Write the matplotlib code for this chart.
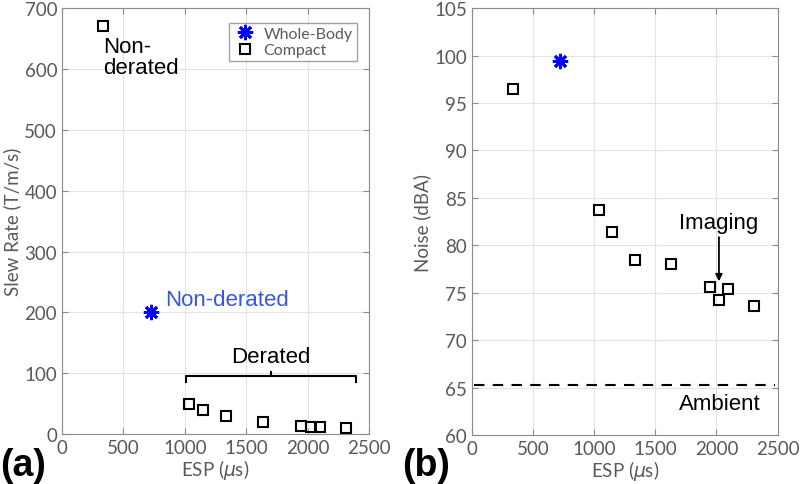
import matplotlib
matplotlib.use("Agg")
import matplotlib.pyplot as plt

# compact gradient points
esp_compact = [332, 1036, 1146, 1336, 1632, 1948, 2024, 2098, 2308]
slew_compact = [670, 49, 40, 30, 19, 14, 12, 11, 10]
noise_compact = [96.5, 83.7, 81.4, 78.5, 78.0, 75.6, 74.2, 75.4, 73.6]

# whole-body gradient point
esp_wb = [722]
slew_wb = [200]
noise_wb = [99.4]

ambient = 65.3

GRAY = "#595959"
STAR = (8, 2, 0)  # matlab-like asterisk
plt.rcParams["font.family"] = ["Lato", "DejaVu Sans"]

fig = plt.figure(figsize=(8, 4.85), dpi=100)
ax1 = fig.add_axes([0.0775, 0.103, 0.384, 0.878])
ax2 = fig.add_axes([0.59, 0.101, 0.382, 0.880])


def style(ax):
  ax.grid(True, color="#e3e3e3", linewidth=0.8)
  ax.set_axisbelow(True)
  for s in ax.spines.values():
    s.set_color("#8c8c8c")
    s.set_linewidth(0.8)
  ax.tick_params(direction="in", top=True, right=True, colors="#8c8c8c",
                 labelcolor=GRAY, labelsize=13.5, length=4)
  ax.set_xlim(0, 2500)
  ax.set_xticks([0, 500, 1000, 1500, 2000, 2500])
  ax.set_xlabel(r"ESP ($\mu$s)", color=GRAY, fontsize=13.5, labelpad=1)


# (a) slew rate
style(ax1)
ax1.plot(esp_wb, slew_wb, marker=STAR, ls="none", color="blue", mew=2,
         markersize=11, label="Whole-Body")
ax1.plot(esp_compact, slew_compact, "s", mfc="none", mec="black", mew=1.5,
         markersize=7, label="Compact")
ax1.set_ylim(0, 700)
ax1.set_yticks(range(0, 701, 100))
ax1.set_ylabel("Slew Rate (T/m/s)", color=GRAY, fontsize=13.5, labelpad=2)
ax1.legend(loc="upper right", fontsize=11.5, frameon=True, fancybox=False,
           edgecolor="#8c8c8c", handletextpad=0.4, borderpad=0.25,
           labelspacing=0.15, handlelength=1.5, labelcolor=GRAY,
           bbox_to_anchor=(0.985, 0.985))

afont = dict(family=["Liberation Sans", "DejaVu Sans"], fontsize=16)
ax1.text(338, 655, "Non-\nderated", ha="left", va="top", color="black",
         linespacing=1.05, **afont)
ax1.text(838, 221, "Non-derated", ha="left", va="center", color="#3a55e0", **afont)
ax1.text(1700, 128, "Derated", ha="center", va="center", color="black", **afont)
# bracket
bx0, bx1, by = 1010, 2390, 95
ax1.plot([bx0, bx0, 1700, 1700, 1700, bx1, bx1],
         [by - 10, by, by, by + 7, by, by, by - 10],
         color="black", linewidth=1.5, solid_joinstyle="round")

# (b) noise
style(ax2)
ax2.plot(esp_wb, noise_wb, marker=STAR, ls="none", color="blue", mew=2,
         markersize=11)
ax2.plot(esp_compact, noise_compact, "s", mfc="none", mec="black", mew=1.5,
         markersize=7)
ax2.axhline(ambient, xmin=0.005, xmax=0.99, color="black", linestyle=(0, (5, 4)),
            linewidth=1.5)
ax2.set_ylim(60, 105)
ax2.set_yticks(range(60, 106, 5))
ax2.set_ylabel("Noise (dBA)", color=GRAY, fontsize=13.5, labelpad=2)
ax2.annotate("Imaging", xy=(2020, 76.2), xytext=(2020, 81.3), ha="center",
             va="bottom", color="black",
             arrowprops=dict(arrowstyle="-|>", color="black", lw=1.3,
                             mutation_scale=10, shrinkA=1, shrinkB=0),
             **afont)
ax2.text(2030, 63.3, "Ambient", ha="center", va="center", color="black", **afont)

fig.text(0.0, 0.003, "(a)", fontsize=27, fontweight="bold",
         family=["Liberation Sans", "DejaVu Sans"], ha="left", va="bottom")
fig.text(0.503, 0.003, "(b)", fontsize=27, fontweight="bold",
         family=["Liberation Sans", "DejaVu Sans"], ha="left", va="bottom")

fig.savefig("out.png", dpi=100)
